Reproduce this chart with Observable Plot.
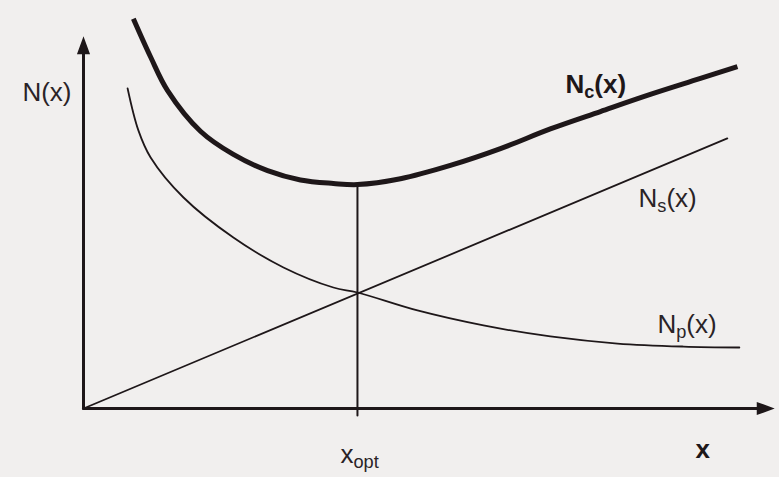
<!DOCTYPE html>
<html><head><meta charset="utf-8">
<script src="https://cdn.jsdelivr.net/npm/d3@7"></script>
<script src="https://cdn.jsdelivr.net/npm/@observablehq/plot@0.6"></script>
<style>body{margin:0;background:#f1efee;} #chart{width:779px;height:477px;}</style>
</head><body><div id="chart"></div>
<script>
// Nc(x) — total (thick)
const ncX = [1.82, 2.45, 3.07, 4.27, 5.47, 6.72, 7.92, 9.12, 10.0, 11.57, 13.39, 15.22, 17.04, 18.87, 20.69, 22.52, 23.87];
const ncY = [33.6, 30.3, 27.4, 23.9, 21.9, 20.5, 19.7, 19.4, 19.3, 19.8, 20.95, 22.4, 24.1, 25.6, 27.07, 28.45, 29.48];
// Ns(x) — straight line
const nsX = [0, 23.5];
const nsY = [0, 23.28];
// Np(x) — decreasing curve
const npX = [1.61, 2.0, 2.45, 3.65, 5.47, 7.30, 9.12, 10.0, 12.19, 14.6, 17.04, 19.49, 21.9, 23.94];
const npY = [27.59, 24.0, 21.64, 18.19, 14.74, 12.16, 10.43, 10.0, 8.45, 7.16, 6.21, 5.60, 5.34, 5.26];
// optimum
const xOpt = 10;
const ncAtOpt = 19.3;
// axes extents
const xAxisEnd = 25.15;
const yAxisEnd = 31.9;
// labels
const labelsNormal = [
  {x: -2.23, y: 26.47, main: "N", sub: "", rest: "(x)"},
  {x: 20.26, y: 17.41, main: "N", sub: "s", rest: "(x)"},
  {x: 20.95, y: 6.55, main: "N", sub: "p", rest: "(x)"},
  {x: 9.38, y: -4.66, main: "x", sub: "opt", rest: ""}
];
const labelsBold = [
  {x: 17.59, y: 27.16, main: "N", sub: "c", rest: "(x)"},
  {x: 22.34, y: -4.31, main: "x", sub: "", rest: ""}
];

const ink = "#1e1719";
const toPts = (xs, ys) => xs.map((x, i) => ({x, y: ys[i]}));
const nc = toPts(ncX, ncY), ns = toPts(nsX, nsY), np = toPts(npX, npY);

const arrowHead = {
  draw(ctx) { ctx.moveTo(0, 0); ctx.lineTo(5.5, 15); ctx.lineTo(-5.5, 15); ctx.closePath(); }
};

const chart = Plot.plot({
  width: 779, height: 477,
  marginLeft: 83, marginRight: 7, marginTop: 2, marginBottom: 69,
  x: {domain: [0, 25.15], axis: null},
  y: {domain: [0, 35], axis: null},
  style: {background: "#f1efee", fontFamily: "'Liberation Sans', Arial, sans-serif", color: ink},
  marks: [
    // axes
    Plot.line([{x: 0, y: 0}, {x: xAxisEnd - 0.5, y: 0}], {x: "x", y: "y", stroke: ink, strokeWidth: 3}),
    Plot.line([{x: 0, y: 0}, {x: 0, y: yAxisEnd - 1.1}], {x: "x", y: "y", stroke: ink, strokeWidth: 3}),
    Plot.dot([{x: 0, y: yAxisEnd}], {x: "x", y: "y", symbol: arrowHead, fill: ink, stroke: ink, strokeWidth: 1.5, rotate: 0}),
    Plot.dot([{x: xAxisEnd, y: 0}], {x: "x", y: "y", symbol: arrowHead, fill: ink, stroke: ink, strokeWidth: 1.5, rotate: 90}),
    // optimum vertical
    Plot.line([{x: xOpt, y: -0.6}, {x: xOpt, y: ncAtOpt}], {x: "x", y: "y", stroke: ink, strokeWidth: 2}),
    // curves
    Plot.line(ns, {x: "x", y: "y", stroke: ink, strokeWidth: 1.8}),
    Plot.line(np, {x: "x", y: "y", stroke: ink, strokeWidth: 1.8, curve: "catmull-rom"}),
    Plot.line(nc, {x: "x", y: "y", stroke: ink, strokeWidth: 5, curve: "catmull-rom", strokeLinecap: "butt"}),
    // labels
    Plot.text(labelsNormal, {x: "x", y: "y", text: d => d.main + d.sub + d.rest, textAnchor: "start", lineAnchor: "bottom", fontSize: 26, fill: "#2a2326"}),
    Plot.text(labelsBold, {x: "x", y: "y", text: d => d.main + d.sub + d.rest, textAnchor: "start", lineAnchor: "bottom", fontSize: 26, fontWeight: "bold", fill: "#1e1719"})
  ]
});

function subscripts(group, rows) {
  d3.select(group).selectAll("text").each(function(_, i) {
    const d = rows[i];
    const t = d3.select(this);
    t.text(null);
    t.append("tspan").text(d.main);
    if (d.sub) t.append("tspan").attr("font-size", "0.7em").attr("dy", 5).text(d.sub);
    if (d.rest) t.append("tspan").attr("dy", d.sub ? -5 : 0).text(d.rest);
  });
}
const textGroups = chart.querySelectorAll('g[aria-label="text"]');
subscripts(textGroups[0], labelsNormal);
subscripts(textGroups[1], labelsBold);

document.getElementById("chart").append(chart);
</script>
</body></html>
